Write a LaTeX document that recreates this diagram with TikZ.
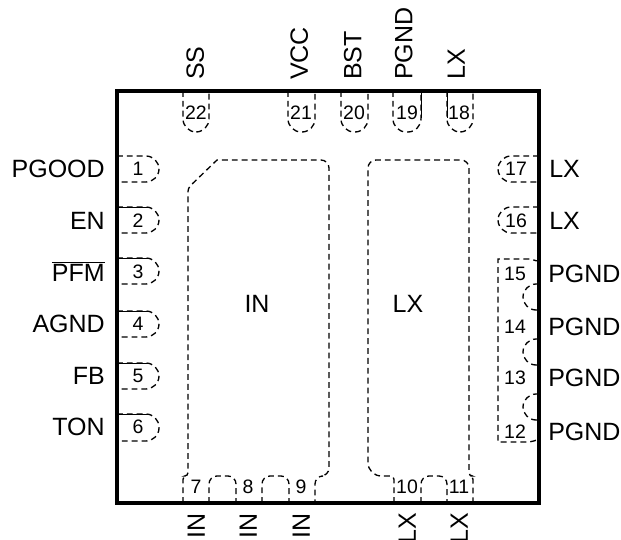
\documentclass[tikz,border=0pt]{standalone}
\usepackage{fontspec}
\setmainfont{Liberation Sans}
\usetikzlibrary{positioning}

\begin{document}
\begin{tikzpicture}[x=0.75pt,y=-0.75pt,node distance =38.7pt and 24.75pt, on grid,
package/.style ={draw, line width=2.4pt},
pad/.style ={draw, line width=1pt, dash pattern=on 4.4pt off 3pt},
pin/.style ={pad, rounded corners=9.9pt},
arch/.style ={pad, rounded corners=6pt},
edge/.style ={draw, line width=0.7pt},
num/.style ={font=\fontsize{14.6pt}{16pt}\selectfont, inner sep=0pt},
sig/.style ={font=\fontsize{18.75pt}{20pt}\selectfont, inner sep=0pt, text height=13.4pt, text depth=0pt}]
\useasboundingbox (0,0) rectangle (621,539);
\draw[package] (117,91) rectangle (539,503);
% pin numbers, left side
\node[num] (P1) at (138,169) {1};
\node[num] (P2) [below =of P1]{2};
\node[num] (P3) [below =of P2]{3};
\node[num] (P4) [below =of P3]{4};
\node[num] (P5) [below =of P4]{5};
\node[num] (P6) [below =of P5]{6};
% pin numbers, bottom side
\node[num] (P7) at (196,487) {7};
\node[num] (P8) at (248,487) {8};
\node[num] (P9) at (301,487) {9};
\node[num] (P10) at (407,487) {10};
\node[num] (P11) at (459,487) {11};
% pin numbers, right side
\node[num] (P12) at (515,432) {12};
\node[num] (P13) at (515,378) {13};
\node[num] (P14) at (515,327) {14};
\node[num] (P15) at (515,274) {15};
\node[num] (P16) at (516,221) {16};
\node[num] (P17) at (516,169) {17};
% pin numbers, top side
\node[num] (P18) at (459,113) {18};
\node[num] (P19) at (407,113) {19};
\node[num] (P20) at (354,113) {20};
\node[num] (P21) at (301,113) {21};
\node[num] (P22) at (196,113) {22};
% signal names
\node[sig] (PGOOD) [left =of P1, anchor=east]{PGOOD};
\node[sig] (EN) [left =of P2, anchor=east]{EN};
\node[sig] (PFM) [left =of P3, anchor=east]{$\overline{\mbox{PFM}}$};
\node[sig] (AGND) [left =of P4, anchor=east]{AGND};
\node[sig] (FB) [left =of P5, anchor=east]{FB};
\node[sig] (TON) [left =of P6, anchor=east]{TON};
\node[sig] (LXa) [right =of P17, anchor=west]{LX};
\node[sig] (LXb) [right =of P16, anchor=west]{LX};
\node[sig] (PGNDa) [right =of P15, anchor=west]{PGND};
\node[sig] (PGNDb) [right =of P14, anchor=west]{PGND};
\node[sig] (PGNDc) [right =of P13, anchor=west]{PGND};
\node[sig] (PGNDd) [right =of P12, anchor=west]{PGND};
\node[sig, rotate=90, anchor=west] (SS) at (195,80) {SS};
\node[sig, rotate=90, anchor=west] (VCC) at (299,80) {VCC};
\node[sig, rotate=90, anchor=west] (BST) at (352.5,80) {BST};
\node[sig, rotate=90, anchor=west] (PGNDe) at (403.5,80) {PGND};
\node[sig, rotate=90, anchor=west] (LXc) at (456,80) {LX};
\node[sig, rotate=90] (INa) [below =19.5pt of P7, anchor=east]{IN};
\node[sig, rotate=90] (INb) [below =19.5pt of P8, anchor=east]{IN};
\node[sig, rotate=90] (INc) [below =19.5pt of P9, anchor=east]{IN};
\node[sig, rotate=90] (LXd) [below =19.5pt of P10, anchor=east]{LX};
\node[sig, rotate=90] (LXe) [below =19.5pt of P11, anchor=east]{LX};
\node[sig] (IN) at (257,304) {IN};
\node[sig] (LX) at (408,304) {LX};
% left pins
\draw[pin] (117,156) -- (159,156) -- (159,182) -- (117,182);
\draw[pin] (117,207) -- (159,207) -- (159,233) -- (117,233);
\draw[pin] (117,258) -- (159,258) -- (159,284) -- (117,284);
\draw[pin] (117,311) -- (159,311) -- (159,337) -- (117,337);
\draw[pin] (117,363) -- (159,363) -- (159,389) -- (117,389);
\draw[pin] (117,414) -- (159,414) -- (159,441) -- (117,441);
\draw[edge] (117,207) -- (149,207);
\draw[edge] (117,258) -- (149,258);
\draw[edge] (117,311) -- (149,311);
\draw[edge] (117,363) -- (149,363);
\draw[edge] (117,414) -- (149,414);
% top pins
\draw[pin] (183,91) -- (183,132) -- (209,132) -- (209,91);
\draw[pin] (288,91) -- (288,132) -- (315,132) -- (315,91);
\draw[pin] (341,91) -- (341,132) -- (368,132) -- (368,91);
\draw[pin] (393,91) -- (393,132) -- (421,132) -- (421,91);
\draw[pin] (447,91) -- (447,132) -- (473,132) -- (473,91);
\draw[edge] (421,91) -- (421,118);
\draw[edge] (447,91) -- (447,118);
% right pins
\draw[pin] (539,156) -- (498,156) -- (498,182) -- (539,182);
\draw[pin] (539,207) -- (498,207) -- (498,233) -- (539,233);
\draw[pin] (539,284) -- (523,284) -- (523,310) -- (539,310);
\draw[pin] (539,339) -- (523,339) -- (523,365) -- (539,365);
\draw[pin] (539,394) -- (523,394) -- (523,420) -- (539,420);
\draw[pad] (539,261) .. controls (534,261) and (533,259) .. (529,259) -- (498,259) -- (498,442) -- (529,442) .. controls (533,442) and (534,440) .. (539,440);
% bottom arches
\draw[arch] (209,503) -- (209,476) -- (236,476) -- (236,503);
\draw[arch] (262,503) -- (262,476) -- (289,476) -- (289,503);
\draw[arch] (421,503) -- (421,476) -- (447,476) -- (447,503);
% exposed pads
\draw[pad, rounded corners=2.5pt] (183,503) -- (183,476) -- (188,476) -- (188,188) [sharp corners] -- (217,160) [rounded corners=6pt] -- (329,160) -- (329,476) -- (315,476) -- (315,503);
\draw[pad, rounded corners=2.5pt] (394,503) -- (394,476) [rounded corners=10pt] -- (368,476) [rounded corners=6pt] -- (368,160) -- (469,160) [rounded corners=2.5pt] -- (469,476) -- (473,476) -- (473,503);
\end{tikzpicture}
\end{document}
